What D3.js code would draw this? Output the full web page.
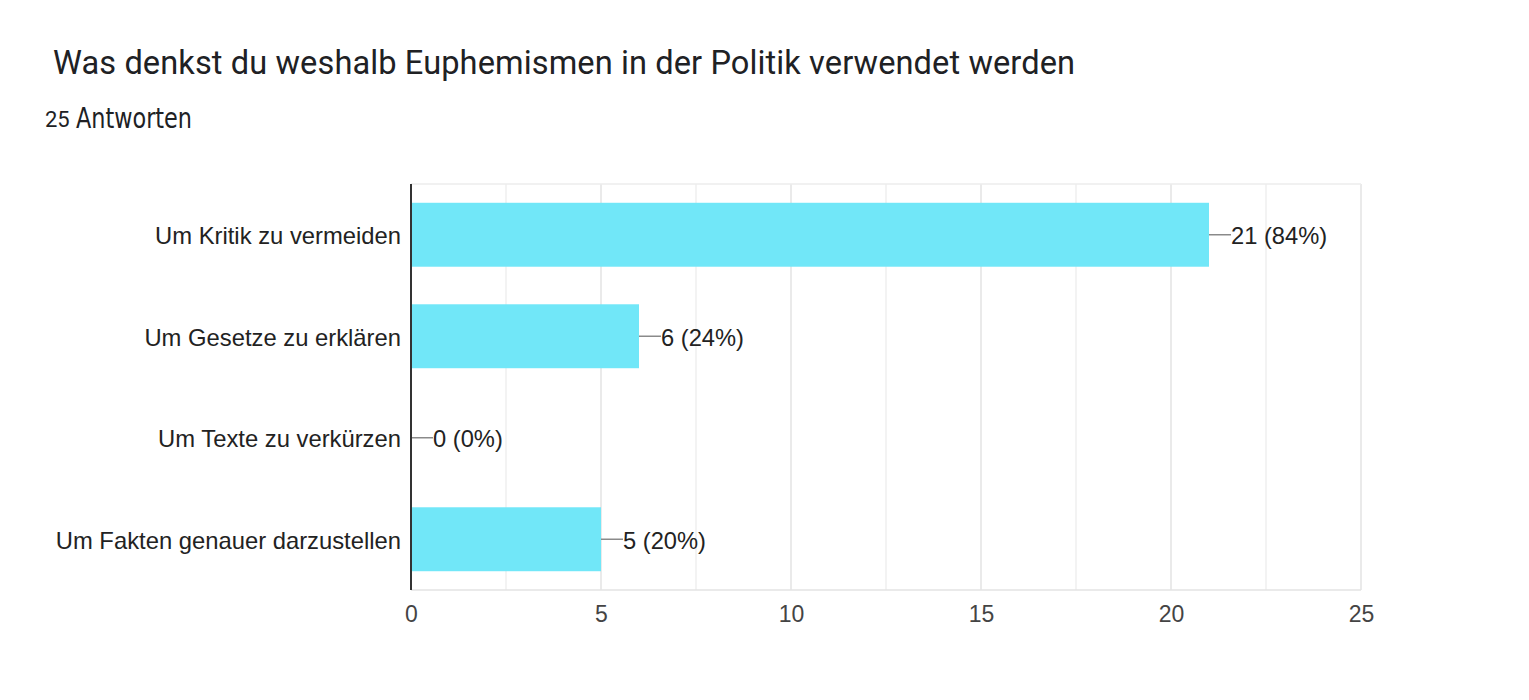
<!DOCTYPE html>
<html><head><meta charset="utf-8">
<script src="https://cdn.jsdelivr.net/npm/d3@7"></script>
<style>
html,body{margin:0;padding:0;background:#fff;}
svg{display:block;}
</style></head>
<body>
<svg id="c" width="1529" height="700"></svg>
<script>
const title = "Was denkst du weshalb Euphemismen in der Politik verwendet werden";
const responseCount = "25";
const responseWord = "Antworten";
const categories = ["Um Kritik zu vermeiden","Um Gesetze zu erklären","Um Texte zu verkürzen","Um Fakten genauer darzustellen"];
const counts = [21, 6, 0, 5];
const total = 25;
const majorTicks = [0, 5, 10, 15, 20, 25];
const gridValues = [0, 2.5, 5, 7.5, 10, 12.5, 15, 17.5, 20, 22.5, 25];

(function(){
const svg = d3.select("#c");
svg.append("rect").attr("width",1529).attr("height",700).attr("fill","#fff");

svg.append("text").attr("x",53).attr("y",74)
  .attr("font-family","Roboto, 'Noto Sans', sans-serif").attr("font-size",32.6)
  .attr("textLength",1022).attr("lengthAdjust","spacing")
  .attr("fill","#202124").text(title);
svg.append("text").attr("x",45).attr("y",127)
  .attr("font-family","Roboto, sans-serif").attr("font-size",22).attr("fill","#202124")
  .text(responseCount);
svg.append("text").attr("x",76).attr("y",128)
  .attr("font-family","'DejaVu Sans Condensed', 'Liberation Sans Narrow', sans-serif")
  .attr("font-weight",200).attr("font-size",29).attr("textLength",116).attr("lengthAdjust","spacingAndGlyphs")
  .attr("fill","#202124").text(responseWord);

const pL = 411, pR = 1361, pT = 184, pB = 590;
const x = d3.scaleLinear().domain([0,25]).range([pL,pR]);
const y = d3.scaleBand().domain(categories).range([pT,pB]).paddingInner(0.37).paddingOuter(0.185);

svg.append("g").selectAll("line").data(gridValues).join("line")
  .attr("x1",d=>x(d)).attr("x2",d=>x(d)).attr("y1",pT).attr("y2",pB)
  .attr("stroke",d=> d%5===0 ? "#e3e3e3" : "#efefef").attr("stroke-width",1.5);
svg.append("line").attr("x1",pL).attr("x2",pR).attr("y1",pT).attr("y2",pT).attr("stroke","#ececec").attr("stroke-width",1.5);
svg.append("line").attr("x1",pL).attr("x2",pR).attr("y1",pB).attr("y2",pB).attr("stroke","#e3e3e3").attr("stroke-width",1.5);

svg.append("g").selectAll("rect").data(categories).join("rect")
  .attr("x",x(0)).attr("y",d=>y(d)).attr("width",(d,i)=>x(counts[i])-x(0)).attr("height",y.bandwidth())
  .attr("fill","#71e7f8");

const lab = svg.append("g");
categories.forEach((c,i)=>{
  const xe = x(counts[i]);
  const yc = y(c) + y.bandwidth()/2;
  lab.append("line").attr("x1",xe).attr("x2",xe+22).attr("y1",yc).attr("y2",yc).attr("stroke","#8a8a8a").attr("stroke-width",1.5);
  lab.append("text").attr("x",xe+22).attr("y",yc+1).attr("dy","0.36em")
    .attr("font-family","'Liberation Sans', Arial, sans-serif").attr("font-size",23.7).attr("fill","#222")
    .text(counts[i] + " (" + Math.round(counts[i]/total*100) + "%)");
});

const yAxis = d3.axisLeft(y).tickSize(0).tickPadding(10);
const gy = svg.append("g").attr("transform",`translate(${pL},0)`).call(yAxis);
gy.select(".domain").remove();
gy.selectAll("text").attr("font-family","'Liberation Sans', Arial, sans-serif").attr("font-size",23.8).attr("fill","#222").attr("dy","0.4em");
svg.append("line").attr("x1",pL).attr("x2",pL).attr("y1",pT).attr("y2",pB).attr("stroke","#333").attr("stroke-width",2);

const xAxis = d3.axisBottom(x).tickValues(majorTicks).tickSize(0).tickPadding(16).tickFormat(d3.format("d"));
const gx = svg.append("g").attr("transform",`translate(0,${pB})`).call(xAxis);
gx.select(".domain").remove();
gx.selectAll("text").attr("font-family","'Liberation Sans', Arial, sans-serif").attr("font-size",23).attr("fill","#444");
})();
</script>
</body></html>
